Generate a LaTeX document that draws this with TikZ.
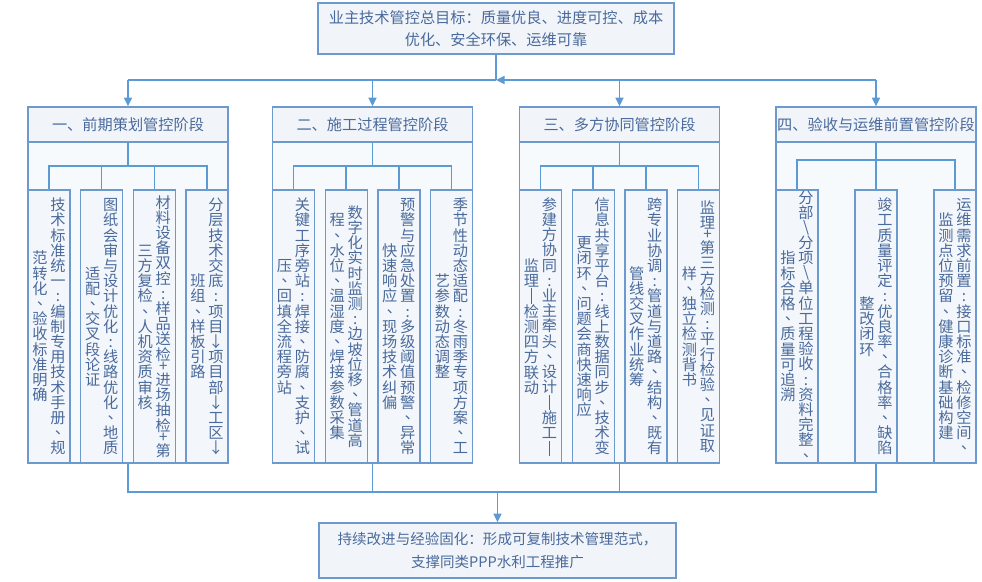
\documentclass[tikz,border=0pt]{standalone}
\usepackage{fontspec}
\setmainfont{Noto Sans CJK SC}
\newfontfamily\tcfont{Noto Sans CJK TC}
\usetikzlibrary{arrows.meta}
\definecolor{linec}{HTML}{5B9BD5}
\definecolor{boxc}{HTML}{6D9ACE}
\definecolor{txtc}{HTML}{4A6A9C}
\definecolor{fa}{HTML}{F1F5FA}
\definecolor{fb}{HTML}{F7FAFD}
\definecolor{fc}{HTML}{F3F7FB}
% vertical (top-to-bottom) column typesetting
\def\cellstrut{\vrule height .88em depth .12em width 0pt}
\def\vcell#1{\hbox to 1em{\hss#1\cellstrut\hss}}
\def\vendmark{\vend}
\def\vcolloop#1{\def\vtmp{#1}\ifx\vtmp\vendmark\else\vcell{#1}\expandafter\vcolloop\fi}
\def\vcol#1{\vbox{\offinterlineskip\vcolloop#1\vend}}
\newcommand\vtwo[2]{\hbox{$\vcenter{\vcol{#2}}$\hskip2.1pt$\vcenter{\vcol{#1}}$}}
\def\hc#1{\def\cellstrut{\vrule height .55em depth .05em width 0pt}#1}
\def\vpl{\hc{+}}
\def\vsl{\hc{\textbackslash}}
\def\vdsh{\vrule width .07em height .9em depth .1em}
\def\vdn{{\tcfont 、}}
\tikzset{
  every node/.style={font=\fontsize{11.4pt}{14pt}\selectfont, text=txtc},
  boxa/.style={draw=boxc, line width=1pt, fill=fa, inner sep=0pt},
  body/.style={draw=boxc, line width=1pt, fill=fb, inner sep=0pt},
  sub/.style={draw=boxc, line width=1pt, fill=fc, inner sep=0pt},
  conn/.style={draw=linec, line width=1.1pt},
  arr/.style={conn, -{Triangle[length=6.5pt,width=6pt]}},
}
% box from corner (x1,y1) to (x2,y2), in pixel units
\newcommand\bx[7]{\node[#1, minimum width={(#5-#3)*0.75pt}, minimum height={(#6-#4)*0.75pt}]
  (#2) at ({(#3+#5)/2},{(#4+#6)/2}) {#7};}
\newcommand\sbx[4]{\bx{sub}{#1}{#2}{190}{#2+42}{463}{\vtwo{#3}{#4}}}
\begin{document}
\begin{tikzpicture}[x=0.75pt, y=-0.75pt]
\fill[white] (0,0) rectangle (982,582);
\useasboundingbox (0,0) rectangle (982,582);

% top goal
\bx{boxa, align=center, font=\fontsize{11.4pt}{16.5pt}\selectfont}{top}{318}{3}{674}{54}
  {业主技术管控总目标：质量优良、进度可控、成本\\优化、安全环保、运维可靠}

% stage bodies
\bx{body}{c1}{28}{142}{228}{463}{}
\bx{body}{c2}{272.5}{142}{472.5}{463}{}
\bx{body}{c3}{519.5}{142}{719.5}{463}{}
\bx{body}{c4}{776}{142}{976}{463}{}

% stage headers
\bx{boxa}{h1}{28}{107}{228}{142}{一、前期策划管控阶段}
\bx{boxa}{h2}{272.5}{107}{472.5}{142}{二、施工过程管控阶段}
\bx{boxa}{h3}{519.5}{107}{719.5}{142}{三、多方协同管控阶段}
\bx{boxa}{h4}{776}{107}{976}{142}{四、验收与运维前置管控阶段}

% stage 1
\sbx{s1a}{28}{技术标准统一:编制专用技术手册\vdn 规}{范转化\vdn 验收标准明确}
\sbx{s1b}{80.67}{图纸会审与设计优化:线路优化\vdn 地质}{适配\vdn 交叉段论证}
\sbx{s1c}{133.33}{材料设备双控:样品送检\vpl 进场抽检\vpl 第}{三方复检\vdn 人机资质审核}
\sbx{s1d}{186}{分层技术交底:项目↓项目部↓工区↓}{班组\vdn 样板引路}
% stage 2
\sbx{s2a}{272.5}{关键工序旁站:焊接\vdn 防腐\vdn 支护\vdn 试}{压\vdn 回填全流程旁站}
\sbx{s2b}{325.17}{数字化实时监测:边坡位移\vdn 管道高}{程\vdn 水位\vdn 温湿度\vdn 焊接参数采集}
\sbx{s2c}{377.83}{预警与应急处置:多级阈值预警\vdn 异常}{快速响应\vdn 现场技术纠偏}
\sbx{s2d}{430.5}{季节性动态适配:冬雨季专项方案\vdn 工}{艺参数动态调整}
% stage 3
\sbx{s3a}{519.5}{参建方协同:业主牵头\vdn 设计\vdsh 施工\vdsh}{监理\vdsh 检测四方联动}
\sbx{s3b}{572.17}{信息共享平台:线上数据同步\vdn 技术变}{更闭环\vdn 问题会商快速响应}
\sbx{s3c}{624.83}{跨专业协调:管道与道路\vdn 结构\vdn 既有}{管线交叉作业统筹}
\sbx{s3d}{677.5}{监理\vpl 第三方检测:平行检验\vdn 见证取}{样\vdn 独立检测背书}
% stage 4
\sbx{s4a}{776}{分部\vsl 分项\vsl 单位工程验收:资料完整\vdn}{指标合格\vdn 质量可追溯}
\sbx{s4b}{855}{竣工质量评定:优良率\vdn 合格率\vdn 缺陷}{整改闭环}
\sbx{s4c}{934}{运维需求前置:接口标准\vdn 检修空间\vdn}{监测点位预留\vdn 健康诊断基础构建}

% bottom box
\bx{boxa, align=center, font=\fontsize{10.9pt}{17pt}\selectfont}{bot}{319}{523}{676}{578}
  {持续改进与经验固化：形成可复制技术管理范式，\\支撑同类PPP水利工程推广}

% top bus
\coordinate (j) at (496,80);
\draw[conn] (top.south) -- (j);
\draw[conn] (h1.north |- j) -- (j);
\draw[arr] (h4.north |- j) -- (j);
\draw[arr] (h1.north |- j) -- (h1.north);
\draw[arr] (h2.north |- j) -- (h2.north);
\draw[arr] (h3.north |- j) -- (h3.north);
\draw[arr] (h4.north |- j) -- (h4.north);

% inner trees
\coordinate (t1) at (128,166);
\coordinate (t2) at (372.5,166);
\coordinate (t3) at (619.5,166);
\coordinate (t4) at (876,160);
\draw[conn] (h1.south) -- (t1);
\draw[conn] (s1a.north) |- (t1) -| (s1d.north);
\draw[conn] (s1b.north) -- (s1b.north |- t1);
\draw[conn] (s1c.north) -- (s1c.north |- t1);
\draw[conn] (h2.south) -- (t2);
\draw[conn] (s2a.north) |- (t2) -| (s2d.north);
\draw[conn] (s2b.north) -- (s2b.north |- t2);
\draw[conn] (s2c.north) -- (s2c.north |- t2);
\draw[conn] (h3.south) -- (t3);
\draw[conn] (s3a.north) |- (t3) -| (s3d.north);
\draw[conn] (s3b.north) -- (s3b.north |- t3);
\draw[conn] (s3c.north) -- (s3c.north |- t3);
\draw[conn] (h4.south) -- (t4);
\draw[conn] (s4a.north) |- (t4) -| (s4c.north);
\draw[conn] (s4b.north) -- (s4b.north |- t4);

% bottom bus
\coordinate (u) at (497.5,492);
\draw[conn] (c1.south) -- (c1.south |- u) -- (c4.south |- u) -- (c4.south);
\draw[conn] (c2.south) -- (c2.south |- u);
\draw[conn] (c3.south) -- (c3.south |- u);
\draw[arr] (bot.north |- u) -- (bot.north);
\end{tikzpicture}
\end{document}
